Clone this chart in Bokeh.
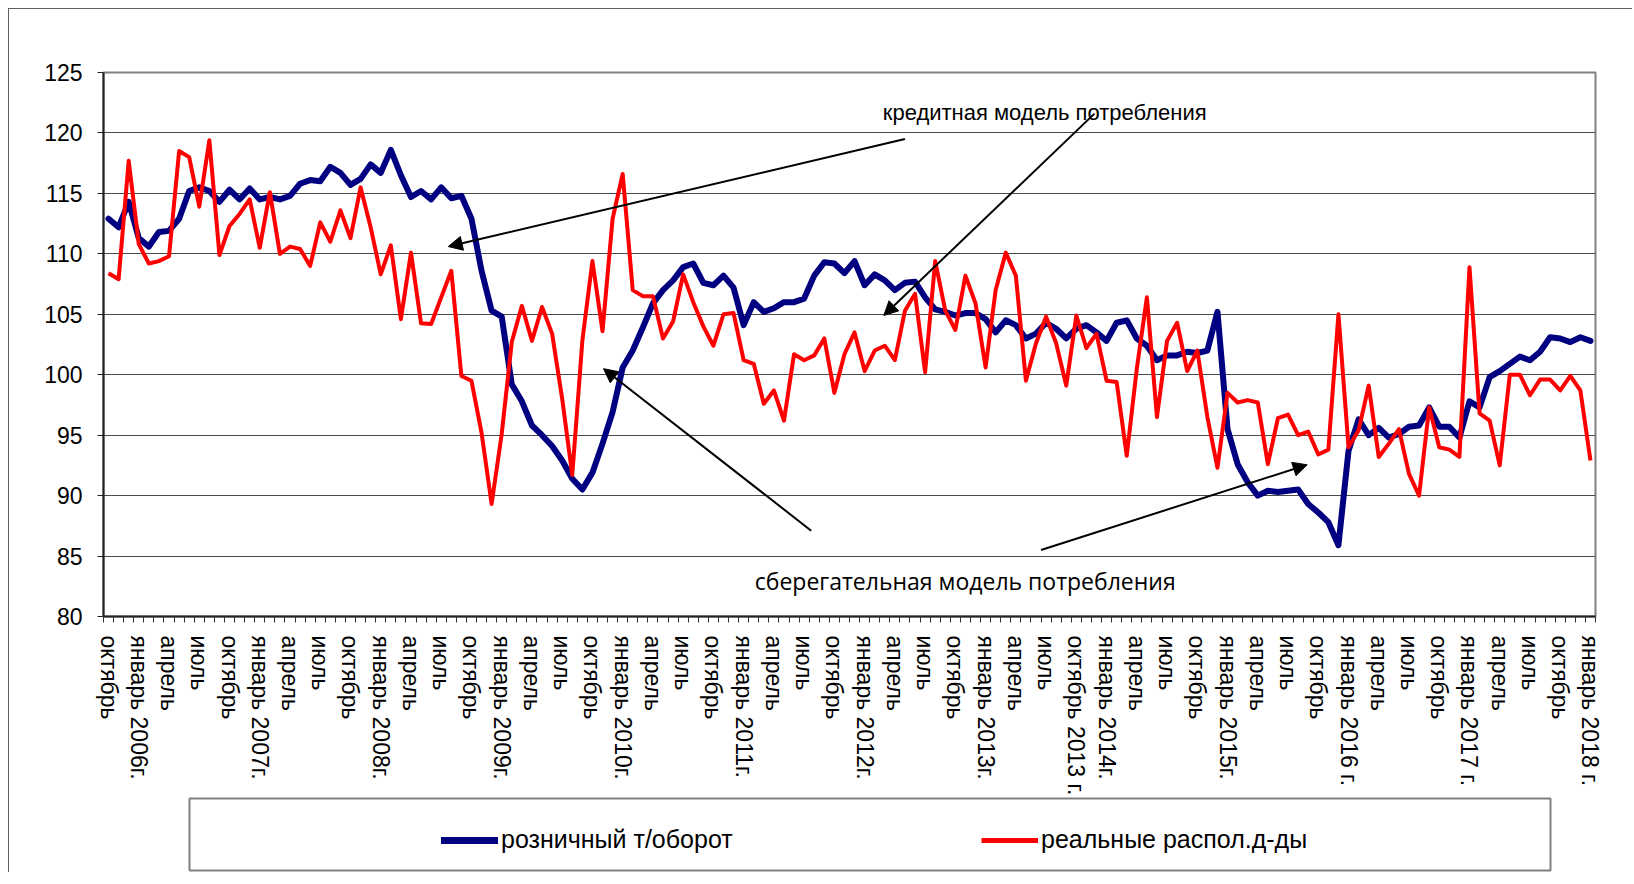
from bokeh.plotting import figure
from bokeh.models import (Range1d, FixedTicker, Arrow, NormalHead, Label, Legend,
                          LegendItem, ColumnDataSource)
from bokeh.embed import file_html
from bokeh.resources import INLINE

# monthly series, October 2005 .. January 2018
retail = [112.9, 112.2, 114.3, 111.3, 110.6, 111.8, 111.9, 112.9, 115.2, 115.5,
          115.2, 114.3, 115.3, 114.5, 115.4, 114.5, 114.7, 114.5, 114.8, 115.8,
          116.1, 116.0, 117.2, 116.7, 115.7, 116.2, 117.4, 116.7, 118.6, 116.5,
          114.7, 115.2, 114.5, 115.5, 114.6, 114.8, 112.9, 108.6, 105.3, 104.8,
          99.2, 97.8, 95.8, 95.0, 94.1, 92.9, 91.4, 90.5, 91.9, 94.3,
          96.9, 100.6, 102.0, 103.9, 105.9, 107.0, 107.8, 108.9, 109.2, 107.6,
          107.4, 108.2, 107.2, 104.1, 106.0, 105.2, 105.5, 106.0, 106.0, 106.3,
          108.2, 109.3, 109.2, 108.4, 109.4, 107.4, 108.3, 107.8, 107.0, 107.6,
          107.7, 106.4, 105.4, 105.2, 104.9, 105.1, 105.1, 104.6, 103.5, 104.5,
          104.1, 103.0, 103.4, 104.3, 103.8, 103.0, 103.8, 104.1, 103.5, 102.8,
          104.3, 104.5, 103.0, 102.4, 101.2, 101.6, 101.6, 101.9, 101.8, 102.0,
          105.2, 95.5, 92.6, 91.1, 90.0, 90.4, 90.3, 90.4, 90.5, 89.3,
          88.6, 87.8, 85.9, 93.7, 96.3, 95.0, 95.6, 94.8, 95.1, 95.7,
          95.8, 97.3, 95.7, 95.7, 94.8, 97.8, 97.3, 99.8, 100.3, 100.9,
          101.5, 101.2, 101.9, 103.1, 103.0, 102.7, 103.1, 102.8]

income = [108.4, 107.9, 117.7, 110.8, 109.2, 109.4, 109.8, 118.5, 118.0, 113.9,
          119.4, 109.9, 112.3, 113.3, 114.5, 110.5, 115.1, 110.0, 110.6, 110.4,
          109.0, 112.6, 111.0, 113.6, 111.3, 115.5, 112.2, 108.3, 110.7, 104.6,
          110.1, 104.25, 104.2, 106.4, 108.6, 99.9, 99.5, 95.2, 89.3, 95.1,
          102.7, 105.7, 102.8, 105.6, 103.4, 98.0, 91.7, 102.8, 109.4, 103.6,
          112.9, 116.6, 107.0, 106.5, 106.5, 103.0, 104.4, 108.3, 106.0, 104.0,
          102.4, 105.0, 105.1, 101.2, 100.9, 97.6, 98.7, 96.2, 101.7, 101.2,
          101.6, 103.0, 98.5, 101.7, 103.5, 100.3, 102.0, 102.4, 101.2, 105.3,
          106.7, 100.2, 109.4, 105.3, 103.7, 108.2, 105.9, 100.6, 107.0, 110.1,
          108.2, 99.5, 102.6, 104.8, 102.6, 99.1, 104.9, 102.2, 103.4, 99.5,
          99.4, 93.3, 100.5, 106.4, 96.5, 102.8, 104.3, 100.3, 102.0, 96.5,
          92.3, 98.5, 97.7, 97.9, 97.7, 92.6, 96.4, 96.7, 95.0, 95.3,
          93.4, 93.8, 105.0, 94.0, 95.4, 99.1, 93.2, 94.3, 95.5, 91.8,
          90.0, 97.3, 94.0, 93.8, 93.2, 108.9, 96.8, 96.2, 92.5, 100.0,
          100.0, 98.3, 99.6, 99.6, 98.7, 99.9, 98.7, 92.9]

tick_labels = ["октябрь", "январь 2006г.", "апрель", "июль",
               "октябрь", "январь 2007г.", "апрель", "июль",
               "октябрь", "январь 2008г.", "апрель", "июль",
               "октябрь", "январь 2009г.", "апрель", "июль",
               "октябрь", "январь 2010г.", "апрель", "июль",
               "октябрь", "январь 2011г.", "апрель", "июль",
               "октябрь", "январь 2012г.", "апрель", "июль",
               "октябрь", "январь 2013г.", "апрель", "июль",
               "октябрь 2013 г.", "январь 2014г.", "апрель", "июль",
               "октябрь", "январь 2015г.", "апрель", "июль",
               "октябрь", "январь 2016 г.", "апрель", "июль",
               "октябрь", "январь 2017 г.", "апрель", "июль",
               "октябрь", "январь 2018 г."]

y_ticks = [80, 85, 90, 95, 100, 105, 110, 115, 120, 125]

series_names = ["розничный т/оборот", "реальные распол.д-ды"]

# annotation arrows: (x_start, y_start, x_end, y_end) in data units
arrows = [(79.0, 119.5, 33.7, 110.6),
          (97.8, 121.6, 76.9, 104.9),
          (69.7, 87.1, 49.1, 100.5),
          (92.5, 85.5, 118.9, 92.55)]
notes = [("кредитная модель потребления", 76.8, 121.7, "Liberation Sans", "22px"),
         ("сберегательная модель потребления", 64.1, 82.95, "Open Sans", "23px")]

n = len(retail)
src = ColumnDataSource(dict(x=list(range(n)), retail=retail, income=income))

W = 1624
frame_css = {"margin-left": "8px", "margin-top": "8px",
             "border-left": "1px solid #606060", "border-top": "1px solid #606060"}

p = figure(width=W, height=789, x_range=Range1d(-0.5, n - 0.5),
           y_range=Range1d(80, 125), output_backend="svg", toolbar_location=None,
           min_border_left=94, min_border_right=W - 94 - 1492, min_border_top=63,
           min_border_bottom=182, styles=frame_css)
p.outline_line_color = "#808080"
p.outline_line_width = 2
p.background_fill_color = "white"
p.border_fill_color = "white"

p.line("x", "retail", source=src, line_color="#000080", line_width=6,
       line_join="round", line_cap="round")
p.line("x", "income", source=src, line_color="#FF0000", line_width=4,
       line_join="round")

xa = p.xaxis[0]
xa.ticker = FixedTicker(ticks=list(range(0, n, 3)),
                        minor_ticks=[i - 0.5 for i in range(n + 1)])
xa.major_label_overrides = {i * 3: lab for i, lab in enumerate(tick_labels)}
xa.major_label_orientation = "vertical"
xa.major_tick_out = 0
xa.major_tick_in = 0
xa.minor_tick_out = 6
xa.minor_tick_in = 0
xa.minor_tick_line_color = "#333333"
xa.axis_line_color = "#222222"
xa.axis_line_width = 2
xa.major_label_standoff = 13
xa.major_label_text_font = "Liberation Sans"
xa.major_label_text_font_size = "23px"
xa.major_label_text_color = "black"

ya = p.yaxis[0]
ya.ticker = FixedTicker(ticks=y_ticks)
ya.major_tick_out = 6
ya.major_tick_in = 0
ya.minor_tick_out = 0
ya.minor_tick_in = 0
ya.axis_line_color = "#222222"
ya.axis_line_width = 2
ya.major_tick_line_color = "#222222"
ya.major_label_standoff = 15
ya.major_label_text_font = "Liberation Sans"
ya.major_label_text_font_size = "23px"
ya.major_label_text_color = "black"

p.xgrid.visible = False
p.ygrid.ticker = FixedTicker(ticks=y_ticks)
p.ygrid.grid_line_color = "#4a4a4a"
p.ygrid.grid_line_width = 1

for xs, ys, xe, ye in arrows:
    p.add_layout(Arrow(end=NormalHead(size=14, fill_color="black", line_color="black"),
                       x_start=xs, y_start=ys, x_end=xe, y_end=ye,
                       line_color="black", line_width=2))

for txt, tx, ty, fnt, fs in notes:
    p.add_layout(Label(x=tx, y=ty, text=txt, text_font=fnt, text_font_size=fs,
                       text_baseline="middle", text_align="left", text_color="black"))

# legend panel (separate root, so that its frame is not aligned with the chart's)
p2 = figure(width=W, height=75, x_range=Range1d(0, 1), y_range=Range1d(0, 1),
            x_axis_type=None, y_axis_type=None, toolbar_location=None,
            output_backend="svg", min_border_left=180, min_border_right=W - 180 - 1361,
            min_border_top=1, min_border_bottom=2,
            styles={"margin-left": "8px", "border-left": "1px solid #606060"})
p2.outline_line_color = "#808080"
p2.outline_line_width = 2
dummy = ColumnDataSource(dict(x=[-10, -9], y=[-10, -9]))
r1 = p2.line("x", "y", source=dummy, line_color="#000080", line_width=7, line_cap="round")
r2 = p2.line("x", "y", source=dummy, line_color="#FF0000", line_width=5)
legend = Legend(items=[LegendItem(label=series_names[0], renderers=[r1]),
                       LegendItem(label=series_names[1], renderers=[r2])],
                orientation="horizontal", location=(252, 16), padding=0, margin=0,
                spacing=40, glyph_width=57, glyph_height=20, label_width=440,
                label_height=20, label_standoff=3, border_line_alpha=0,
                background_fill_alpha=0, label_text_font="Liberation Sans",
                label_text_font_size="25px", label_text_color="black")
p2.add_layout(legend)

open("out.html", "w").write(file_html([p, p2], INLINE))
